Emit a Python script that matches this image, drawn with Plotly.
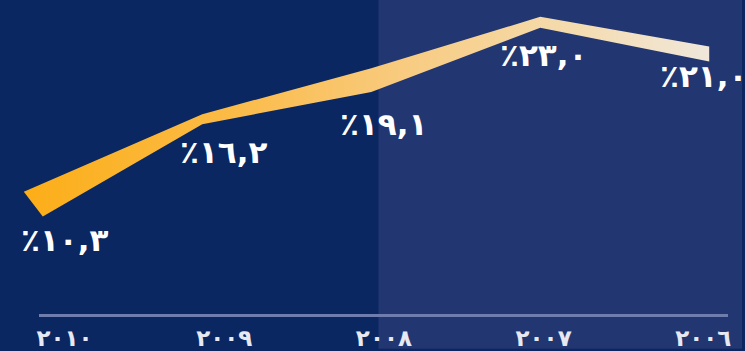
import plotly.graph_objects as go

# Growth share by year (percent), ordered 2006 -> 2010
years = [2006, 2007, 2008, 2009, 2010]
values = [21.0, 23.0, 19.1, 16.2, 10.3]

AR_DIGITS = str.maketrans("0123456789", "٠١٢٣٤٥٦٧٨٩")


def ar_num(s):
    return str(s).translate(AR_DIGITS)


year_labels = [ar_num(y) for y in years]
value_labels = ["\u202D٪" + ar_num(f"{v:.1f}").replace(".", ",") + "\u202C" for v in values]

W, H = 745, 351
BOTTOM = 35
PLOT_H = H - BOTTOM

# vertical scale: data units per pixel
Y_LO, Y_HI = 2.63, 24.56
px_per_unit = PLOT_H / (Y_HI - Y_LO)

# ribbon edge offsets in pixels above / below each value, and end slant
band_up = [4.5, 5.5, 10.0, 5.5, 12.5]
band_down = [10.5, 5.5, 14.0, 4.5, 12.5]
end_slant = 0.056

idx = list(range(len(years)))
top_x = [float(i) for i in idx]
bot_x = [float(i) for i in idx]
top_x[-1] += end_slant
bot_x[-1] -= end_slant
top_y = [v + u / px_per_unit for v, u in zip(values, band_up)]
bot_y = [v - d / px_per_unit for v, d in zip(values, band_down)]

poly_x = top_x + bot_x[::-1] + [top_x[0]]
poly_y = top_y + bot_y[::-1] + [top_y[0]]

NAVY = "#0a2762"
NAVY_LIGHT = "#223671"

fig = go.Figure()
fig.add_trace(go.Scatter(
    x=poly_x, y=poly_y,
    mode="lines",
    line=dict(width=0, color="rgba(0,0,0,0)"),
    fill="toself",
    fillgradient=dict(
        type="horizontal",
        start=max(poly_x), stop=min(poly_x),
        colorscale=[[0.0, "#fcae18"], [0.3, "#fbbb47"], [0.55, "#f8cb80"],
                    [0.8, "#f4dcb0"], [1.0, "#f0e8dc"]],
    ),
    hoverinfo="skip",
    showlegend=False,
    xaxis="x", yaxis="y",
))

# invisible trace on the year axis
fig.add_trace(go.Scatter(
    x=idx, y=values, mode="markers",
    marker=dict(opacity=0), hoverinfo="skip", showlegend=False,
    xaxis="x2", yaxis="y",
))

label_drop = [25, 33, 46, 32, 36]
for i, (v, lab, dy) in enumerate(zip(values, value_labels, label_drop)):
    fig.add_annotation(
        x=i, y=v, xref="x2", yref="y",
        text=lab, showarrow=False,
        yshift=-dy,
        font=dict(family="DejaVu Sans", size=31, color="white", weight="bold"),
        xanchor="center", yanchor="middle",
    )

fig.add_shape(
    type="rect", xref="paper", yref="paper",
    x0=379 / W, x1=1.0, y0=-BOTTOM / PLOT_H, y1=1.0,
    fillcolor=NAVY_LIGHT, line=dict(width=0), layer="below",
)

fig.update_layout(
    width=W, height=H,
    margin=dict(l=0, r=0, t=0, b=BOTTOM),
    paper_bgcolor=NAVY,
    plot_bgcolor="rgba(0,0,0,0)",
    xaxis=dict(
        domain=[0, 1], range=[4 + 31.5 / 170.1, -(W - 712) / 170.1],
        visible=False, fixedrange=True,
    ),
    xaxis2=dict(
        domain=[37 / W, 731 / W], range=[4 + 26 / 160.75, -25 / 160.75],
        anchor="y",
        tickmode="array", tickvals=idx, ticktext=year_labels,
        showline=True, linecolor="#6f7cae", linewidth=3,
        showgrid=False, zeroline=False,
        ticks="outside", ticklen=1, tickcolor="rgba(0,0,0,0)",
        tickfont=dict(family="DejaVu Sans", size=23, color="#e6e9f2", weight="bold"),
        fixedrange=True,
    ),
    yaxis=dict(
        range=[Y_LO, Y_HI], visible=False, fixedrange=True,
    ),
)

fig.write_html("out.html")
